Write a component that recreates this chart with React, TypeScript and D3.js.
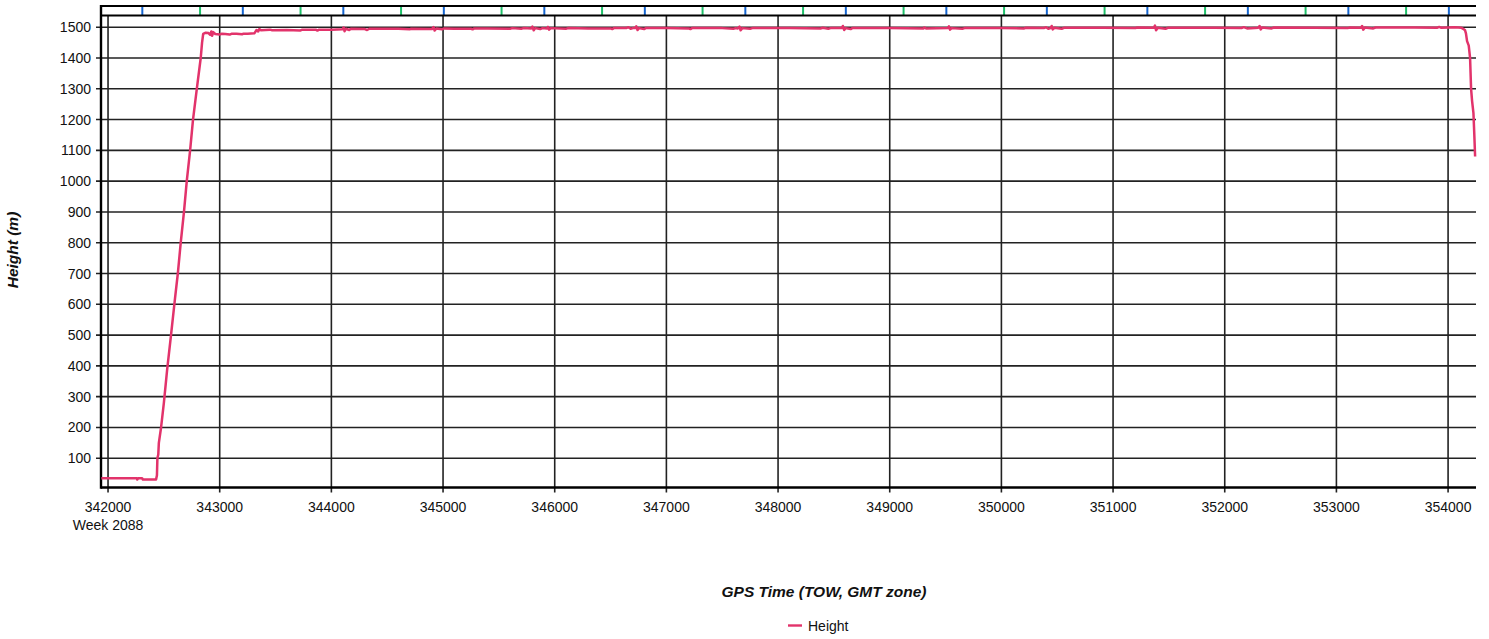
import React from "react";
import * as d3 from "d3";

const xTickValues = [342000, 343000, 344000, 345000, 346000, 347000, 348000, 349000, 350000, 351000, 352000, 353000, 354000];
const yTickValues = [100, 200, 300, 400, 500, 600, 700, 800, 900, 1000, 1100, 1200, 1300, 1400, 1500];
const blueMarks = [342307, 343207, 344107, 345007, 345907, 346807, 347707, 348607, 349507, 350407, 351307, 352207, 353107, 354007];
const greenMarks = [342824, 343724, 344624, 345524, 346424, 347324, 348224, 349124, 350024, 350924, 351824, 352724, 353624];

const heightSeries: [number, number][] = [
  [341940, 35], [342150, 35], [342258, 35], [342262, 31], [342270, 35], [342305, 35], [342312, 31],
  [342430, 31], [342438, 45], [342442, 100], [342450, 112], [342455, 150], [342475, 200], [342500, 280],
  [342530, 390], [342564, 500], [342600, 620], [342625, 700], [342651, 800], [342680, 900], [342705, 1000],
  [342735, 1100], [342761, 1200], [342795, 1300], [342830, 1400], [342842, 1450], [342852, 1478],
  [342875, 1482], [342900, 1481], [342915, 1475], [342925, 1486], [342932, 1472], [342942, 1484],
  [342960, 1478], [343000, 1476], [343020, 1479], [343050, 1478], [343090, 1476], [343110, 1479],
  [343150, 1479], [343200, 1477], [343215, 1479], [343250, 1479], [343310, 1480], [343330, 1491],
  [343345, 1486], [343355, 1494], [343370, 1490], [343450, 1492], [343470, 1490], [343600, 1491],
  [343720, 1489], [343740, 1492], [343860, 1492], [343875, 1489], [343890, 1492], [344000, 1492],
  [344100, 1493], [344110, 1499], [344118, 1487], [344130, 1495], [344160, 1491], [344175, 1495],
  [344300, 1494], [344320, 1491], [344340, 1495], [344600, 1495], [344700, 1493], [344715, 1495],
  [344900, 1494], [344915, 1500], [344925, 1489], [344940, 1496], [344990, 1493], [345010, 1496],
  [345100, 1495], [345250, 1495], [345265, 1493], [345280, 1496], [345400, 1496], [345600, 1495],
  [345620, 1497], [345700, 1495], [345720, 1497], [345790, 1496], [345800, 1502], [345812, 1490],
  [345825, 1497], [345870, 1494], [345890, 1497], [345930, 1496], [345940, 1501], [345950, 1492],
  [345965, 1497], [346100, 1495], [346120, 1497], [346300, 1496], [346500, 1496], [346515, 1494],
  [346530, 1497], [346640, 1497], [346660, 1500], [346680, 1495], [346700, 1497], [346720, 1497],
  [346730, 1503], [346742, 1491], [346755, 1497], [346800, 1494], [346815, 1497], [347000, 1497],
  [347200, 1496], [347215, 1494], [347230, 1497], [347500, 1497], [347600, 1495], [347620, 1497],
  [347640, 1496], [347655, 1502], [347665, 1490], [347680, 1497], [347750, 1495], [347770, 1497],
  [348100, 1497], [348380, 1496], [348400, 1498], [348450, 1495], [348470, 1497], [348570, 1497],
  [348580, 1504], [348592, 1491], [348605, 1497], [348650, 1494], [348665, 1497], [349000, 1497],
  [349300, 1496], [349310, 1499], [349325, 1496], [349520, 1497], [349530, 1503], [349540, 1492],
  [349555, 1497], [349650, 1495], [349670, 1497], [350000, 1497], [350200, 1496], [350220, 1498],
  [350380, 1497], [350400, 1500], [350420, 1495], [350440, 1497], [350450, 1504], [350460, 1493],
  [350475, 1498], [350540, 1495], [350560, 1498], [350900, 1498], [351200, 1497], [351215, 1499],
  [351365, 1498], [351375, 1505], [351385, 1490], [351400, 1498], [351470, 1495], [351490, 1498],
  [351900, 1498], [352150, 1497], [352170, 1500], [352200, 1496], [352300, 1498], [352312, 1504],
  [352322, 1493], [352335, 1499], [352420, 1496], [352440, 1499], [352800, 1498], [353100, 1497],
  [353120, 1499], [353220, 1498], [353230, 1504], [353240, 1492], [353255, 1499], [353330, 1496],
  [353350, 1499], [353700, 1499], [353900, 1498], [353920, 1501], [353940, 1498], [354060, 1500],
  [354120, 1498], [354140, 1494], [354152, 1490], [354160, 1480], [354170, 1455], [354185, 1440],
  [354197, 1400], [354206, 1300], [354215, 1260], [354227, 1222], [354235, 1150], [354242, 1080],
];

const xDomain = [341937, 354250];
const yDomain = [5, 1538];

export default function App() {
  const left = 101, right = 1476, top = 15.5, bottom = 487.5;
  const x = d3.scaleLinear().domain(xDomain).range([left, right]);
  const y = d3.scaleLinear().domain(yDomain).range([bottom, top]);
  const line = d3.line<[number, number]>().x((d) => x(d[0])).y((d) => y(d[1]));
  const font = "'Liberation Sans', Arial, sans-serif";
  const grid = "#222";

  return (
    <svg width={1489} height={639} style={{ position: "absolute", left: 0, top: 0, background: "#fff" }} fontFamily={font}>
      <rect x={0} y={0} width={1489} height={639} fill="#fff" />
      {yTickValues.map((v) => (
        <g key={"y" + v}>
          <line x1={96} x2={right} y1={y(v)} y2={y(v)} stroke={grid} strokeWidth={1.6} />
          <text x={91} y={y(v) + 5} textAnchor="end" fontSize={14} fill="#111">{v}</text>
        </g>
      ))}
      {xTickValues.map((v) => (
        <g key={"x" + v}>
          <line x1={x(v)} x2={x(v)} y1={top} y2={bottom + 5} stroke={grid} strokeWidth={1.6} />
          <text x={x(v)} y={511.5} textAnchor="middle" fontSize={14} fill="#111">{v}</text>
        </g>
      ))}
      <text x={x(342000)} y={530} textAnchor="middle" fontSize={14} fill="#111">Week 2088</text>
      {blueMarks.map((v) => (
        <line key={"b" + v} x1={x(v)} x2={x(v)} y1={7} y2={15} stroke="#1565d0" strokeWidth={2} />
      ))}
      {greenMarks.map((v) => (
        <line key={"g" + v} x1={x(v)} x2={x(v)} y1={7} y2={15} stroke="#1fc06a" strokeWidth={2} />
      ))}
      <line x1={left} x2={right} y1={6} y2={6} stroke="#000" strokeWidth={2.2} />
      <line x1={left} x2={right} y1={top} y2={top} stroke="#000" strokeWidth={2} />
      <line x1={left} x2={left} y1={5} y2={bottom + 1.2} stroke="#000" strokeWidth={2.4} />
      <line x1={left} x2={right} y1={bottom} y2={bottom} stroke="#000" strokeWidth={2.4} />
      <path d={line(heightSeries) || ""} fill="none" stroke="#e2336b" strokeWidth={2.5} strokeLinejoin="round" />
      <text transform={`translate(18,250) rotate(-90)`} textAnchor="middle" fontSize={15.5} fontWeight="bold" fontStyle="italic" fill="#111">Height (m)</text>
      <text x={824} y={597} textAnchor="middle" fontSize={15.5} fontWeight="bold" fontStyle="italic" fill="#111">GPS Time (TOW, GMT zone)</text>
      <line x1={788} x2={802} y1={625.5} y2={625.5} stroke="#e2336b" strokeWidth={2.4} />
      <text x={808} y={631} fontSize={14} fill="#111">Height</text>
    </svg>
  );
}
